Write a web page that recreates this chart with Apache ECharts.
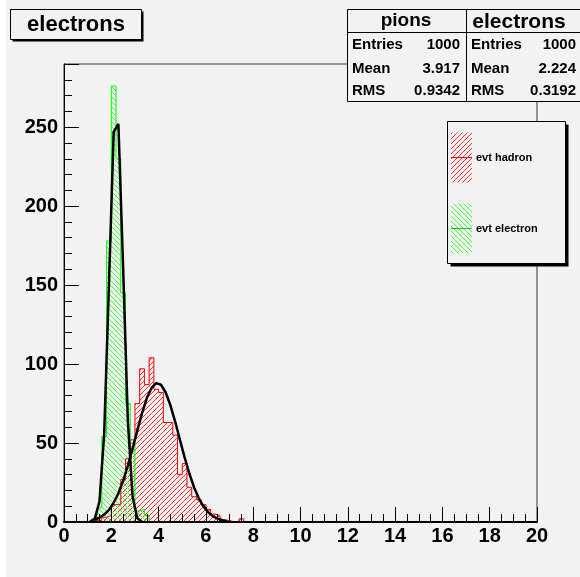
<!DOCTYPE html>
<html>
<head>
<meta charset="utf-8">
<script src="https://cdn.jsdelivr.net/npm/echarts@6/dist/echarts.min.js"></script>
<style>
html, body { margin: 0; padding: 0; background: #fff; }
#chart { width: 580px; height: 577px; }
</style>
</head>
<body>
<div id="chart"></div>
<script>
// 100 bins from 0 to 20, like the ROOT histos
var xMin = 0, xMax = 20, binWidth = 0.2;

// pions (red), counts per bin starting at pionStart
var pionStart = 1.0;
var pionCounts = [1, 1, 1, 3, 4, 11, 11, 27, 40, 52, 75, 97, 87, 104, 84, 82, 63, 63, 55, 30,
                  37, 22, 16, 14, 11, 8, 5, 4, 1, 1, 0, 0, 2];

// electrons (green)
var elecStart = 1.2;
var elecCounts = [2, 9, 54, 178, 276, 230, 145, 75, 50, 7, 8, 4];

// gaussian fits as drawn, one point every 0.2
var fitStep = 0.2;
var pionFitStart = 1.3;
var pionFit = [1.5, 2.7, 4.7, 7.7, 12.2, 18.2, 26.1, 35.7, 46.5, 57.9, 68.9, 78.3, 84.9, 87.9, 86.9,
               82.0, 73.9, 63.6, 52.2, 40.9, 30.7, 21.9, 15.0, 9.8, 6.1, 3.6, 2.1, 1.1, 0.6];
var elecFitStart = 1.1;
var elecFit = [0.3, 2, 13, 56, 150, 247, 252, 161, 64, 16, 2.4, 0.2];

// stat boxes + legend
var statNames = ['Entries', 'Mean', 'RMS'];
var pionStats = ['1000', '3.917', '0.9342'];
var elecStats = ['1000', '2.224', '0.3192'];
var legendNames = ['evt hadron', 'evt electron'];

var FONT = '"Liberation Sans", Arial, Helvetica, sans-serif';
var BG = '#f2f2f2';

function histPoints(start, counts) {
    var nBins = Math.round((xMax - xMin) / binWidth);
    var first = Math.round((start - xMin) / binWidth);
    var pts = [];
    for (var i = 0; i < nBins; i++) {
        var c = (i >= first && i < first + counts.length) ? counts[i - first] : 0;
        pts.push([+(xMin + i * binWidth).toFixed(2), c]);
    }
    pts.push([xMax, 0]);
    return pts;
}

function fitPoints(start, vals) {
    return vals.map(function (v, i) {
        return [+(start + i * fitStep).toFixed(2), v];
    });
}

// hatch fill, forward = "///"
function hatch(color, forward) {
    var s = 5;
    var c = document.createElement('canvas');
    c.width = s; c.height = s;
    var g = c.getContext('2d');
    g.strokeStyle = color;
    g.lineWidth = 1;
    g.beginPath();
    if (forward) {
        g.moveTo(-1, s + 1); g.lineTo(s + 1, -1);
    } else {
        g.moveTo(-1, -1); g.lineTo(s + 1, s + 1);
    }
    g.stroke();
    return { image: c, repeat: 'repeat' };
}

var redHatch = hatch('#ff3030', true);
var greenHatch = hatch('#40ff40', false);

function txt(x, y, s, size, align, weight) {
    return {
        type: 'text', x: x, y: y, z: 100,
        style: {
            text: s, fill: '#000',
            font: (weight || 'bold') + ' ' + size + 'px ' + FONT,
            align: align, textAlign: align,
            verticalAlign: 'middle', textVerticalAlign: 'middle'
        }
    };
}

function box(x, y, w, h, shadow) {
    var out = [];
    if (shadow) {
        out.push({ type: 'rect', z: 99, shape: { x: x + shadow, y: y + shadow, width: w, height: h },
                   style: { fill: '#000' } });
    }
    out.push({ type: 'rect', z: 99, shape: { x: x, y: y, width: w, height: h },
               style: { fill: BG, stroke: '#000', lineWidth: 1 } });
    return out;
}

function line(x1, y1, x2, y2, color) {
    return { type: 'line', z: 100, shape: { x1: x1, y1: y1, x2: x2, y2: y2 },
             style: { stroke: color || '#000', lineWidth: 1 } };
}

var graphics = [];
// white strip on the left of the canvas
graphics.push({ type: 'rect', z: 98, shape: { x: 0, y: 0, width: 6, height: 577 }, style: { fill: '#fff' } });

// title box
graphics = graphics.concat(box(10.5, 9.5, 131, 30, 2));
graphics.push(txt(76, 25, 'electrons', 22, 'center'));

// stat boxes
graphics = graphics.concat(box(347.5, 9.5, 119, 92));
graphics.push(line(347.5, 32.5, 466.5, 32.5));
graphics.push(txt(406, 21, 'pions', 19, 'center'));
graphics = graphics.concat(box(466.5, 9.5, 120, 92));
graphics.push(line(466.5, 32.5, 580, 32.5));
graphics.push(txt(519, 22, 'electrons', 21, 'center'));
var rowY = [45, 68.5, 91];
statNames.forEach(function (n, i) {
    graphics.push(txt(352, rowY[i], n, 15, 'left'));
    graphics.push(txt(460, rowY[i], pionStats[i], 15, 'right'));
    graphics.push(txt(471, rowY[i], n, 15, 'left'));
    graphics.push(txt(576, rowY[i], elecStats[i], 15, 'right'));
});

// legend
graphics = graphics.concat(box(447.5, 121.5, 118, 142, 3));
var legY = [157.5, 228.5];
var legFill = [redHatch, greenHatch];
var legCol = ['#ff0000', '#00cc00'];
legendNames.forEach(function (n, i) {
    graphics.push({ type: 'rect', z: 100, shape: { x: 451, y: legY[i] - 25, width: 21, height: 50 },
                    style: { fill: legFill[i] } });
    graphics.push(line(451, legY[i], 472, legY[i], legCol[i]));
    graphics.push(txt(476, legY[i], n, 11, 'left'));
});

var chart = echarts.init(document.getElementById('chart'), null, { renderer: 'canvas', width: 580, height: 577 });

chart.setOption({
    backgroundColor: BG,
    animation: false,
    grid: {
        left: 64, right: 43, top: 64, bottom: 55,
        show: true, borderColor: '#333', borderWidth: 1, backgroundColor: 'transparent'
    },
    xAxis: {
        type: 'value', min: xMin, max: xMax, interval: 2, z: 5,
        axisLine: { show: true, onZero: false, lineStyle: { color: '#000', width: 2 } },
        axisTick: { show: true, inside: true, length: 15, lineStyle: { color: '#000', width: 1 } },
        minorTick: { show: true, splitNumber: 4, length: 8, lineStyle: { color: '#000', width: 1 } },
        splitLine: { show: false },
        axisLabel: { margin: 4, fontSize: 20, fontWeight: 'bold', color: '#000', fontFamily: FONT }
    },
    yAxis: {
        type: 'value', min: 0, max: 290, interval: 50, z: 5,
        axisLine: { show: true, lineStyle: { color: '#000', width: 1 } },
        axisTick: { show: true, inside: true, length: 15, lineStyle: { color: '#000', width: 1 } },
        minorTick: { show: true, splitNumber: 5, length: 8, lineStyle: { color: '#000', width: 1 } },
        splitLine: { show: false },
        axisLabel: { margin: 6, fontSize: 20, fontWeight: 'bold', color: '#000', fontFamily: FONT,
                     showMaxLabel: false }
    },
    series: [
        {
            name: 'pions', type: 'line', step: 'end', symbol: 'none', z: 2,
            data: histPoints(pionStart, pionCounts),
            itemStyle: { color: '#ff0000' },
            lineStyle: { color: '#ff0000', width: 1 },
            areaStyle: { color: redHatch, opacity: 1 }
        },
        {
            name: 'electrons', type: 'line', step: 'end', symbol: 'none', z: 2,
            data: histPoints(elecStart, elecCounts),
            itemStyle: { color: '#00ff00' },
            lineStyle: { color: '#00ff00', width: 1 },
            areaStyle: { color: greenHatch, opacity: 1 }
        },
        {
            name: 'pion fit', type: 'line', symbol: 'none', z: 3,
            data: fitPoints(pionFitStart, pionFit),
            lineStyle: { color: '#000', width: 2.5 }
        },
        {
            name: 'electron fit', type: 'line', symbol: 'none', z: 3,
            data: fitPoints(elecFitStart, elecFit),
            lineStyle: { color: '#000', width: 2.5 }
        }
    ],
    graphic: graphics
});
</script>
</body>
</html>
